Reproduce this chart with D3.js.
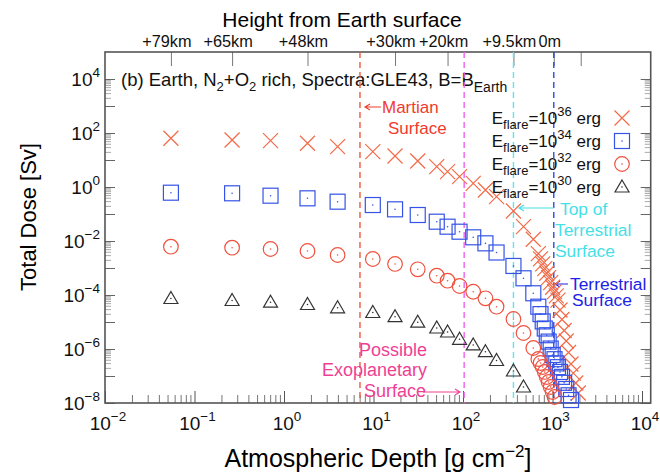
<!DOCTYPE html>
<html>
<head>
<meta charset="utf-8">
<script src="https://cdn.jsdelivr.net/npm/d3@7"></script>
<style>
  body { margin: 0; background: #fff; }
  svg { font-family: "Liberation Sans", Arial, sans-serif; }
</style>
</head>
<body>
<div id="chart"></div>
<script>
// atmospheric depth of each layer [g cm^-2]
const depth = [0.0545, 0.263, 0.707, 1.83, 3.97, 9.82, 17.4, 31.2, 50.9, 67.2, 91.5, 130, 178, 237,
  366, 474, 610, 694, 734, 777, 819, 862, 905, 954, 1004, 1053, 1102, 1151, 1213, 1275, 1349, 1423,
  1510, 1609, 1708, 1819, 1943];

// total dose [Sv] for each flare energy (same depth order, cut where it leaves the chart)
const dose36 = [63.7, 55.1, 51.9, 41.6, 31.1, 20.3, 14.1, 9.18, 5.65, 3.69, 2.41, 1.37, 0.774, 0.438,
  0.129, 0.0339, 0.0116, 3.39e-3, 2.19e-3, 1.43e-3, 9.5e-4, 6.4e-4, 4.4e-4, 2.86e-4, 1.93e-4, 1.34e-4,
  9.3e-5, 6.5e-5, 2.78e-5, 1.24e-5, 4.84e-6, 1.98e-6, 7.4e-7, 2.78e-7, 1.27e-7, 5.5e-8, 2.34e-8];
const dose34 = [0.615, 0.585, 0.477, 0.381, 0.286, 0.215, 0.149, 0.0918, 0.0519, 0.0339, 0.0221, 0.0137,
  8.2e-3, 3.75e-3, 1.19e-3, 4.16e-4, 1.16e-4, 3.69e-5, 1.96e-5, 1.05e-5, 5.74e-6, 3.24e-6, 1.88e-6,
  1.04e-6, 6.0e-7, 4.19e-7, 2.93e-7, 2.12e-7, 1.41e-7, 9.3e-8, 5.6e-8, 3.3e-8, 1.93e-8, 1.29e-8];
const dose32 = [6.15e-3, 5.65e-3, 5.06e-3, 4.27e-3, 3.03e-3, 2.15e-3, 1.41e-3, 8.95e-4, 5.19e-4, 3.39e-4,
  2.15e-4, 1.32e-4, 7.55e-5, 3.69e-5, 1.29e-5, 3.92e-6, 1.09e-6, 4.27e-7, 3.03e-7, 2.15e-7, 1.41e-7,
  9.2e-8, 6.0e-8, 3.92e-8, 2.55e-8, 1.67e-8];
const dose30 = [7.41e-5, 6.25e-5, 5.41e-5, 4.45e-5, 3.36e-5, 2.25e-5, 1.57e-5, 9.84e-6, 6.0e-6, 4.27e-6,
  2.29e-6, 1.41e-6, 7.94e-7, 3.75e-7, 1.53e-7, 3.92e-8];

const flareExp = ["36", "34", "32", "30"];

// height axis on top
const heightLabels = ["+79km", "+65km", "+48km", "+30km", "+20km", "+9.5km", "0m", ""];
const heightDepth = [0.0545, 0.263, 1.83, 17.4, 67.2, 366, 1033, 2065];

// reference surfaces: Mars, possible exoplanet, top of terrestrial surface, terrestrial surface
const surfaceDepth = [7.06, 103, 366, 1033];

const xDecades = [-2, -1, 0, 1, 2, 3, 4];
const yDecades = [-8, -6, -4, -2, 0, 2, 4];

const pLeft = 105, pRight = 650.7, pTop = 52, pBottom = 403;

const svg = d3.select("#chart").append("svg")
    .attr("width", 660)
    .attr("height", 473);

// the frame runs a bit past 10^4 on the right
const x = d3.scaleLog().domain([1e-2, Math.pow(10, 4.097)]).range([pLeft, pRight]);
const y = d3.scaleLog().domain([1e-8, 1e5]).range([pBottom, pTop]);

function minors(exps) {
    var out = [];
    exps.forEach(function (e) {
        for (let k = 2; k < 10; k++) out.push(k * Math.pow(10, e));
    });
    return out;
}
function powers(lo, hi) {
    var out = [];
    for (let e = lo; e <= hi; e++) out.push(Math.pow(10, e));
    return out;
}
function expText(e) {
    return e < 0 ? "\u2212" + Math.abs(e) : "" + e;
}

function tickStyle(g, color) {
    g.select(".domain").remove();
    g.selectAll(".tick line").attr("stroke", color).attr("stroke-width", 1);
    g.selectAll(".tick text").remove();
}

// bottom ticks
svg.append("g").attr("transform", `translate(0,${pBottom})`)
    .call(d3.axisBottom(x).tickValues(minors([-2, -1, 0, 1, 2, 3])).tickSize(-8).tickFormat(""))
    .call(tickStyle, "#777");
svg.append("g").attr("transform", `translate(0,${pBottom})`)
    .call(d3.axisBottom(x).tickValues(powers(-2, 4)).tickSize(-12).tickFormat(""))
    .call(tickStyle, "#555");

// left / right ticks (minor ticks only below the labelled decades)
[[pLeft, d3.axisLeft], [pRight, d3.axisRight]].forEach(function (a) {
    svg.append("g").attr("transform", `translate(${a[0]},0)`)
        .call(a[1](y).tickValues(minors([3, 1, -1, -3, -5, -7])).tickSize(-6).tickFormat(""))
        .call(tickStyle, "#aaa");
    svg.append("g").attr("transform", `translate(${a[0]},0)`)
        .call(a[1](y).tickValues(powers(-8, 4)).tickSize(-10).tickFormat(""))
        .call(tickStyle, "#666");
});

// top height ticks
svg.append("g").attr("transform", `translate(0,${pTop})`)
    .call(d3.axisTop(x).tickValues(heightDepth).tickSize(-14).tickFormat(""))
    .call(tickStyle, "#777");

svg.append("g").selectAll("text")
    .data(heightDepth)
    .join("text")
    .attr("x", d => x(d) - 4)
    .attr("y", 46.5)
    .attr("text-anchor", "middle")
    .attr("font-size", 16.3)
    .attr("fill", "#111")
    .text((d, i) => heightLabels[i]);

// frame
svg.append("rect")
    .attr("x", pLeft).attr("y", pTop)
    .attr("width", pRight - pLeft).attr("height", pBottom - pTop)
    .attr("fill", "none")
    .attr("stroke", "#555")
    .attr("stroke-width", 1.6);

// tick labels with powers of ten
const xLab = svg.append("g").selectAll("text")
    .data(xDecades)
    .join("text")
    .attr("x", d => x(Math.pow(10, d)) + 3)
    .attr("y", 430)
    .attr("text-anchor", "middle")
    .attr("font-size", 19)
    .attr("fill", "#111");
xLab.append("tspan").text("10");
xLab.append("tspan").attr("dy", -9).attr("font-size", 13.5).text(d => expText(d));

const yLab = svg.append("g").selectAll("text")
    .data(yDecades)
    .join("text")
    .attr("x", 100)
    .attr("y", d => y(Math.pow(10, d)) + 7)
    .attr("text-anchor", "end")
    .attr("font-size", 19)
    .attr("fill", "#111");
yLab.append("tspan").text("10");
yLab.append("tspan").attr("dy", -9).attr("font-size", 13.5).text(d => expText(d));

// axis titles
svg.append("text")
    .attr("x", 342).attr("y", 27)
    .attr("text-anchor", "middle")
    .attr("font-size", 21)
    .text("Height from Earth surface");

const xt = svg.append("text")
    .attr("x", 378).attr("y", 467)
    .attr("text-anchor", "middle")
    .attr("font-size", 25);
xt.append("tspan").text("Atmospheric Depth [g cm");
xt.append("tspan").attr("dy", -10).attr("font-size", 17).text("\u22122");
xt.append("tspan").attr("dy", 10).text("]");

svg.append("text")
    .attr("transform", "translate(36,217) rotate(-90)")
    .attr("text-anchor", "middle")
    .attr("font-size", 22)
    .text("Total Dose [Sv]");

// panel label
const pl = svg.append("text")
    .attr("x", 121).attr("y", 86)
    .attr("font-size", 18.5)
    .attr("fill", "#111");
pl.append("tspan").text("(b) Earth, N");
pl.append("tspan").attr("dy", 5).attr("font-size", 13).text("2");
pl.append("tspan").attr("dy", -5).text("+O");
pl.append("tspan").attr("dy", 5).attr("font-size", 13).text("2");
pl.append("tspan").attr("dy", -5).text(" rich, Spectra:GLE43, B=B");
pl.append("tspan").attr("dy", 6).attr("font-size", 14).text("Earth");

// dashed surface lines
const surfaceColor = ["#ee5a40", "#f060f0", "#5ee4ee", "#2b4ee8"];
svg.append("g").selectAll("line")
    .data(surfaceDepth)
    .join("line")
    .attr("x1", d => x(d)).attr("x2", d => x(d))
    .attr("y1", pTop).attr("y2", pBottom)
    .attr("stroke", (d, i) => surfaceColor[i])
    .attr("stroke-width", 1.4)
    .attr("stroke-dasharray", "6,4");

// annotation helpers
function arrow(x1, x2, yy, color) {
    var dir = x2 < x1 ? 1 : -1;
    svg.append("path")
        .attr("d", `M${x1},${yy}L${x2},${yy}M${x2 + dir * 5},${yy - 3}L${x2},${yy}L${x2 + dir * 5},${yy + 3}`)
        .attr("fill", "none")
        .attr("stroke", color)
        .attr("stroke-width", 1.1);
}
// each line: [x, y, text, anchor]
function note(lines, color, size) {
    lines.forEach(function (l) {
        svg.append("text")
            .attr("x", l[0]).attr("y", l[1])
            .attr("text-anchor", l[3] || "start")
            .attr("font-size", size)
            .attr("fill", color)
            .text(l[2]);
    });
}

note([[382, 113, "Martian"], [388, 134, "Surface"]], "#f23a2c", 17);
arrow(381, 365, 107, "#f23a2c");

note([[427, 356, "Possible", "end"], [427, 376, "Exoplanetary", "end"], [364, 397, "Surface"]], "#ef3f94", 18);
arrow(423, 460, 392, "#ef3f94");

note([[560, 215, "Top of"], [555, 236, "Terrestrial"], [555, 257, "Surface"]], "#45dfe8", 17.4);
arrow(554, 519, 208, "#45dfe8");

note([[570, 290, "Terrestrial"], [572, 306, "Surface"]], "#1c22e6", 17.4);
arrow(568, 555, 284, "#1c22e6");

// markers
const shapes = [
    { data: dose36, color: "#f26a48", kind: "x" },
    { data: dose34, color: "#3553e6", kind: "sq" },
    { data: dose32, color: "#f0503e", kind: "ci" },
    { data: dose30, color: "#333333", kind: "tr" }
];

function drawMark(g, kind, color) {
    if (kind == "x") {
        g.append("path").attr("d", "M-7.5,-7.5L7.5,7.5M-7.5,7.5L7.5,-7.5");
    } else if (kind == "sq") {
        g.append("rect").attr("x", -7.5).attr("y", -7.5).attr("width", 15).attr("height", 15);
    } else if (kind == "ci") {
        g.append("circle").attr("r", 7.3);
    } else {
        g.append("path").attr("d", "M0,-7L7,5L-7,5Z");
    }
    g.selectAll("path,rect,circle")
        .attr("fill", "none")
        .attr("stroke", color)
        .attr("stroke-width", 1.2);
    if (kind != "x") {
        g.append("circle").attr("r", 0.8).attr("fill", color);
    }
}

shapes.forEach(function (s) {
    svg.append("g").selectAll("g")
        .data(s.data.map((v, i) => [depth[i], v]))
        .join("g")
        .attr("transform", d => `translate(${x(d[0])},${y(d[1])})`)
        .each(function () { drawMark(d3.select(this), s.kind, s.color); });
});

// legend
const legend = svg.append("g").selectAll("g")
    .data(shapes)
    .join("g")
    .attr("transform", (d, i) => `translate(0,${118 + i * 23})`);

legend.each(function (d, i) {
    var g = d3.select(this);
    var t = g.append("text")
        .attr("x", 601).attr("y", 6)
        .attr("text-anchor", "end")
        .attr("font-size", 17)
        .attr("fill", "#111");
    t.append("tspan").text("E");
    t.append("tspan").attr("dy", 5).attr("font-size", 13).text("flare");
    t.append("tspan").attr("dy", -5).text("=10");
    t.append("tspan").attr("dy", -8).attr("font-size", 13).text(flareExp[i]);
    t.append("tspan").attr("dy", 8).text(" erg");
    drawMark(g.append("g").attr("transform", "translate(622,0)"), d.kind, d.color);
});
</script>
</body>
</html>
